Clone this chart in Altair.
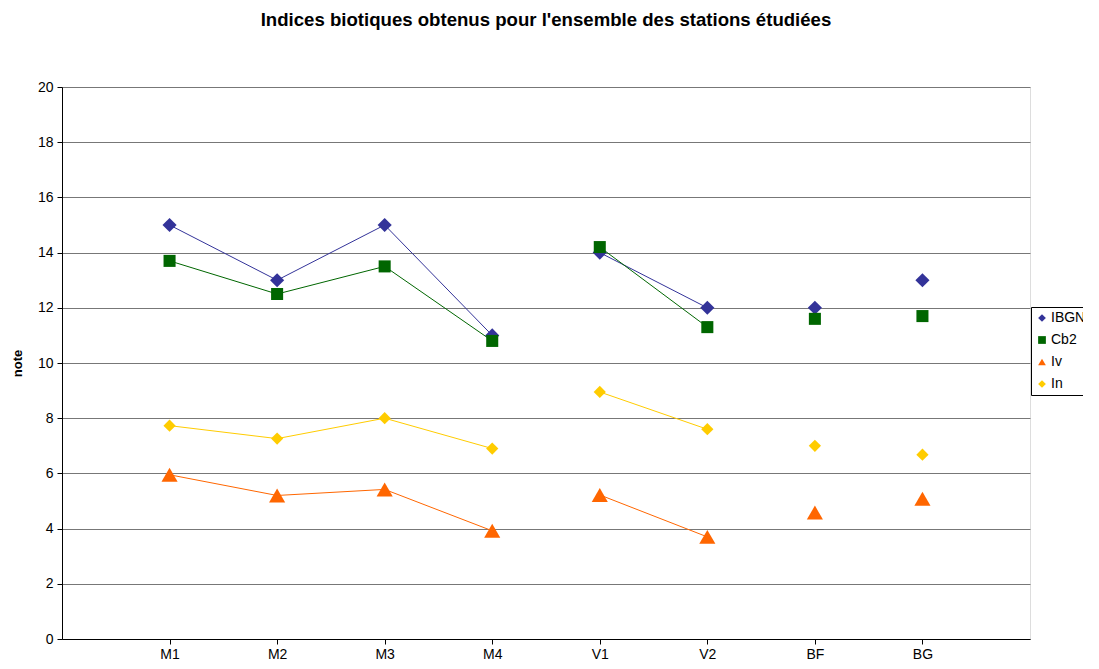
import altair as alt
import pandas as pd

stations = ["M1", "M2", "M3", "M4", "V1", "V2", "BF", "BG"]
segments = ["M", "M", "M", "M", "V", "V", "BF", "BG"]
series_names = ["IBGN", "Cb2", "Iv", "In"]
ibgn = [15, 13, 15, 11, 14, 12, 12, 13]
cb2 = [13.7, 12.5, 13.5, 10.8, 14.2, 11.3, 11.6, 11.7]
iv = [5.95, 5.2, 5.42, 3.92, 5.22, 3.7, 4.58, 5.08]
inn = [7.73, 7.26, 8.0, 6.9, 8.95, 7.6, 7.0, 6.68]

colors = ["#333399", "#006600", "#FF6600", "#FFCC00"]
shapes = ["diamond", "square", "triangle-up", "diamond"]
marker_sizes = {"IBGN": 200, "Cb2": 145, "Iv": 260, "In": 150}

rows = []
for name, vals in zip(series_names, [ibgn, cb2, iv, inn]):
    for st, sg, v in zip(stations, segments, vals):
        rows.append({"station": st, "series": name, "value": v, "seg": sg,
                     "sz": marker_sizes[name]})
df = pd.DataFrame(rows)

FONT = "Liberation Sans"

x = alt.X("station:N", sort=stations, scale=alt.Scale(type="point", padding=1, domain=stations),
          axis=alt.Axis(title=None, labelAngle=0, labelFontSize=14, labelColor="black",
                        labelPadding=3, tickSize=5, tickColor="black", domainColor="black",
                        grid=False, labelFont=FONT))
y = alt.Y("value:Q", scale=alt.Scale(domain=[0, 20], nice=False),
          axis=alt.Axis(title="note", titleFontSize=13, titleFontWeight="bold", titleFont=FONT,
                        titleColor="black", titlePadding=13, values=list(range(0, 21, 2)),
                        labelFontSize=14, labelColor="black", labelFont=FONT, tickSize=5,
                        labelPadding=4, tickColor="black", domainColor="black",
                        gridColor="#777777", gridOpacity=1))

legend = alt.Legend(title=None, orient="none", legendX=969, legendY=220,
                    strokeColor="black", fillColor="white", padding=4,
                    labelFontSize=14, labelFont=FONT, labelColor="black",
                    symbolSize=60, rowPadding=8, labelOffset=2, symbolStrokeWidth=0)
color = alt.Color("series:N", scale=alt.Scale(domain=series_names, range=colors), legend=legend)
shape = alt.Shape("series:N", scale=alt.Scale(domain=series_names, range=shapes), legend=legend)

base = alt.Chart(df)

lines = base.transform_filter(
    alt.FieldOneOfPredicate(field="seg", oneOf=["M", "V"])
).mark_line(strokeWidth=1).encode(
    x=x, y=y, color=color, detail="seg:N",
)

points = base.mark_point(filled=True, opacity=1).encode(
    x=x, y=y, color=color, shape=shape,
    size=alt.Size("sz:Q", scale=None),
)

chart = alt.layer(lines, points).properties(
    width=968,
    height=552,
    title=alt.Title("Indices biotiques obtenus pour l'ensemble des stations étudiées",
                    fontSize=18.6, font=FONT, fontWeight="bold", color="black", offset=50, anchor="middle"),
    autosize=alt.AutoSizeParams(type="none"),
    padding={"left": 54, "top": 79, "right": 53, "bottom": 22},
).configure_view(stroke="#808080", strokeWidth=1).configure(background="white")

chart.save("out.html", embed_options={"renderer": "svg", "actions": False})
